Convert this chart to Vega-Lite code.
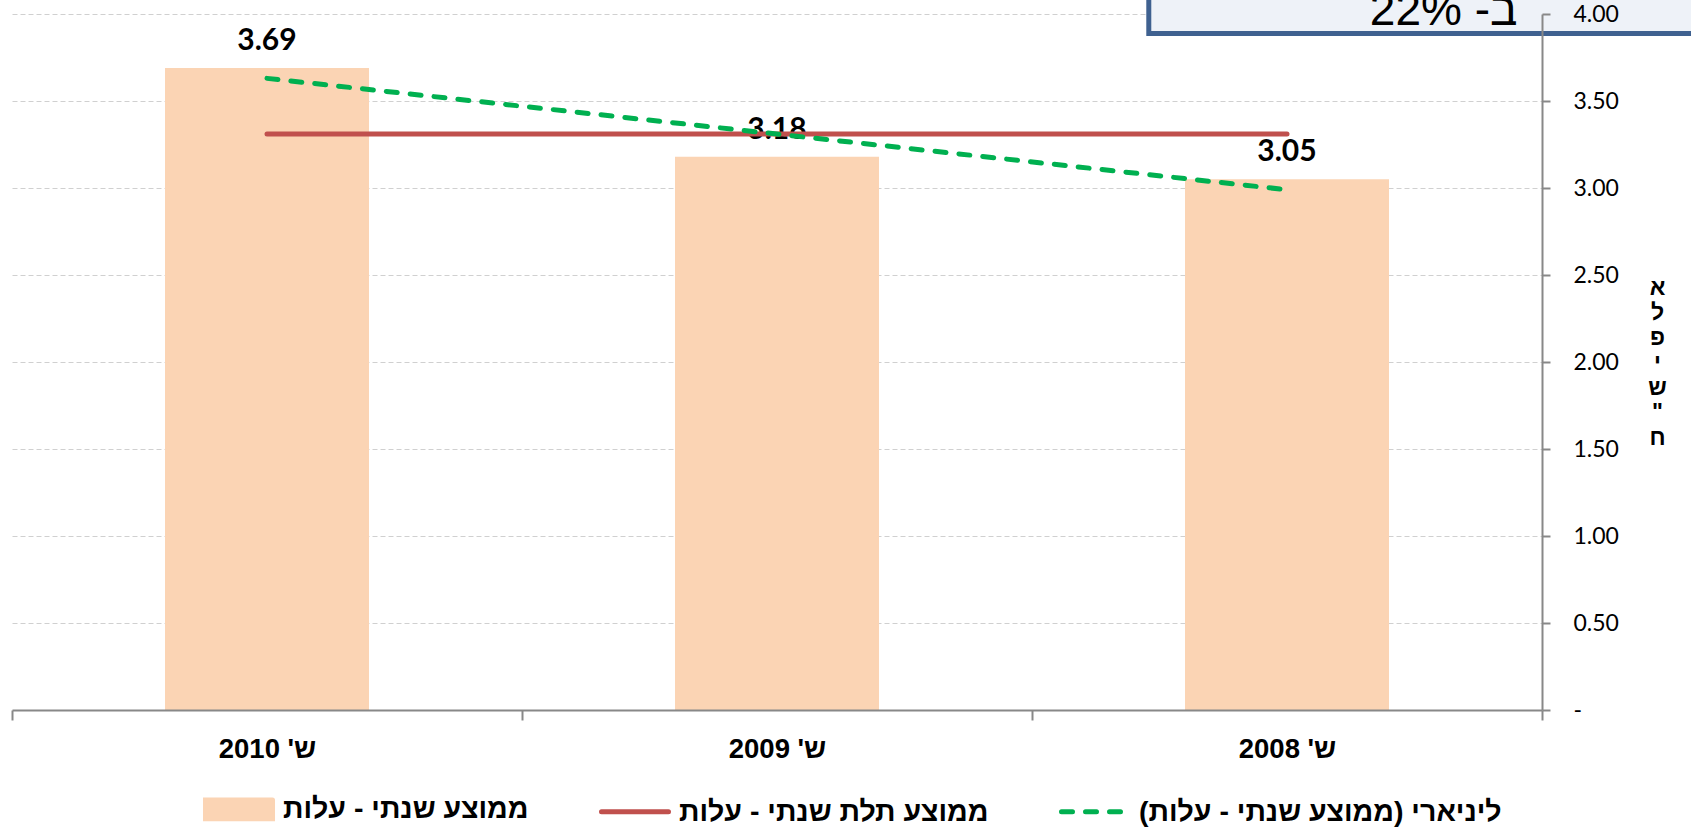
{
  "$schema": "https://vega.github.io/schema/vega-lite/v6.json",
  "width": 1530,
  "height": 696,
  "autosize": "none",
  "padding": {"left": 12, "top": 14, "right": 149, "bottom": 126},
  "background": "white",
  "config": {"view": {"stroke": null}},
  "datasets": {
    "bars": [
      {"year": "2010", "value": 3.69, "series": "ממוצע שנתי - עלות"},
      {"year": "2009", "value": 3.18, "series": "ממוצע שנתי - עלות"},
      {"year": "2008", "value": 3.05, "series": "ממוצע שנתי - עלות"}
    ],
    "avg": [
      {"year": "2010", "value": 3.31, "series": "ממוצע תלת שנתי - עלות"},
      {"year": "2009", "value": 3.31, "series": "ממוצע תלת שנתי - עלות"},
      {"year": "2008", "value": 3.31, "series": "ממוצע תלת שנתי - עלות"}
    ],
    "trend": [
      {"year": "2010", "value": 3.63, "series": "ליניארי (ממוצע שנתי - עלות)"},
      {"year": "2009", "value": 3.31, "series": "ליניארי (ממוצע שנתי - עלות)"},
      {"year": "2008", "value": 2.99, "series": "ליניארי (ממוצע שנתי - עלות)"}
    ],
    "note": [
      {"text": "ב- 22%"}
    ]
  },
  "layer": [
    {
      "data": {"name": "bars"},
      "encoding": {
        "x": {
          "field": "year", "type": "nominal", "sort": ["2010", "2009", "2008"],
          "scale": {"paddingInner": 0, "paddingOuter": 0},
          "axis": {
            "title": null, "orient": "bottom", "labelAngle": 0, "tickBand": "extent",
            "labelExpr": "datum.label ? \"ש' \" + datum.label : ''",
            "tickSize": 10, "tickWidth": 2, "tickColor": "#888888",
            "domainColor": "#888888", "domainWidth": 2,
            "labelFont": "Liberation Sans", "labelFontSize": 27.5, "labelFontWeight": "bold",
            "labelColor": "black", "labelPadding": 15, "labelBaseline": "top",
            "grid": false, "zindex": 1
          }
        },
        "y": {
          "field": "value", "type": "quantitative",
          "scale": {"domain": [0, 4], "nice": false},
          "axis": {
            "orient": "left", "values": [0.5, 1, 1.5, 2, 2.5, 3, 3.5, 4],
            "grid": true, "gridColor": "#D0D0D0", "gridDash": [5, 3], "gridWidth": 1,
            "domain": false, "ticks": false, "labels": false, "title": null, "zindex": 0
          }
        },
        "color": {
          "field": "series", "type": "nominal",
          "scale": {
            "domain": ["ממוצע שנתי - עלות", "ממוצע תלת שנתי - עלות", "ליניארי (ממוצע שנתי - עלות)"],
            "range": ["#FBD4B4", "#C0504D", "#00B050"]
          },
          "legend": {
            "orient": "none", "legendX": 191, "legendY": 759, "direction": "horizontal",
            "title": null,
            "labelFont": "Liberation Sans", "labelFontSize": 28.5, "labelFontWeight": "bold",
            "labelColor": "black", "labelLimit": 800, "labelOffset": 8,
            "columnPadding": 62, "symbolSize": 4489, "symbolStrokeWidth": 5,
            "encode": {
              "symbols": {
                "update": {
                  "shape": {"signal": "datum.value === 'ממוצע שנתי - עלות' ? 'M-1,-0.28L1,-0.28L1,0.28L-1,0.28Z' : 'M-1,0L1,0'"},
                  "fill": {"signal": "datum.value === 'ממוצע שנתי - עלות' ? '#FBD4B4' : 'transparent'"},
                  "stroke": {"signal": "datum.value === 'ממוצע שנתי - עלות' ? 'transparent' : (datum.value === 'ממוצע תלת שנתי - עלות' ? '#C0504D' : '#00B050')"},
                  "strokeDash": {"signal": "datum.value === 'ליניארי (ממוצע שנתי - עלות)' ? [11, 13] : [1, 0]"},
                  "strokeCap": {"value": "round"},
                  "strokeWidth": {"value": 5},
                  "opacity": {"value": 1}
                }
              }
            }
          }
        }
      },
      "layer": [
        {"mark": {"type": "bar", "width": {"band": 0.4}}},
        {
          "mark": {"type": "text", "font": "Lato", "fontSize": 30, "fontWeight": "bold", "baseline": "middle", "dy": -27},
          "encoding": {
            "text": {"field": "value", "type": "quantitative", "format": ".2f"},
            "color": {"value": "black"}
          }
        },
        {"data": {"name": "avg"}, "mark": {"type": "line", "strokeWidth": 5, "strokeCap": "round"}},
        {"data": {"name": "trend"}, "mark": {"type": "line", "strokeWidth": 5, "strokeCap": "round", "strokeDash": [11, 13]}}
      ]
    },
    {
      "data": {"name": "note"},
      "encoding": {
        "y": {
          "datum": 3.888, "type": "quantitative",
          "scale": {"domain": [0, 4], "nice": false},
          "axis": {
            "orient": "right", "values": [0, 0.5, 1, 1.5, 2, 2.5, 3, 3.5, 4],
            "labelExpr": "datum.value === 0 ? '-' : format(datum.value, '.2f')",
            "grid": false, "domainColor": "#888888", "domainWidth": 2,
            "tickColor": "#888888", "tickWidth": 2, "tickSize": 8,
            "labelFont": "Lato", "labelFontSize": 23, "labelColor": "black",
            "labelPadding": 23, "labelAlign": "left",
            "title": ["א", "ל", "פ", "י", "ש", "\"", "ח"],
            "titleAngle": 0, "titleX": 115, "titleY": 262, "titleAlign": "center", "titleBaseline": "top",
            "titleFont": "Liberation Sans", "titleFontSize": 23, "titleFontWeight": "bold",
            "titleColor": "black", "titleLineHeight": 25, "zindex": 1
          }
        }
      },
      "layer": [
        {
          "mark": {"type": "rect", "fill": "#EEF2F8", "stroke": "#3F6190", "strokeWidth": 5},
          "encoding": {
            "x": {"datum": 0.743, "type": "quantitative", "scale": {"domain": [0, 1]}, "axis": null},
            "x2": {"datum": 1.2},
            "y2": {"datum": 4.3}
          }
        },
        {
          "mark": {"type": "text", "font": "Liberation Sans", "fontSize": 46, "align": "right", "baseline": "alphabetic", "color": "black"},
          "encoding": {
            "x": {"datum": 0.984, "type": "quantitative", "scale": {"domain": [0, 1]}, "axis": null},
            "y": {"datum": 3.937, "type": "quantitative"},
            "text": {"field": "text"}
          }
        }
      ]
    }
  ],
  "resolve": {"scale": {"x": "independent"}, "axis": {"y": "independent"}}
}
